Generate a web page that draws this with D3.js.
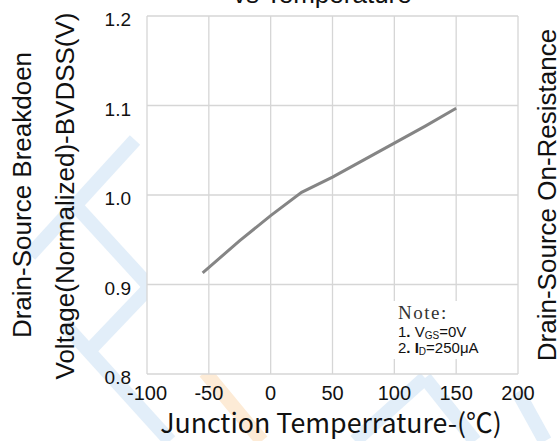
<!DOCTYPE html>
<html>
<head>
<meta charset="utf-8">
<script src="https://cdn.jsdelivr.net/npm/d3@7"></script>
<style>
  html, body { margin: 0; padding: 0; background: #fff; }
  svg { display: block; }
</style>
</head>
<body>
<script>
// data
var temps = [-55, -25, 0, 25, 50, 75, 100, 125, 150];
var bvdss = [0.913, 0.949, 0.977, 1.003, 1.020, 1.039, 1.058, 1.077, 1.097];
var xTicks = [-100, -50, 0, 50, 100, 150, 200];
var yTicks = [0.8, 0.9, 1.0, 1.1, 1.2];

function main() {
  var width = 559, height = 441;
  var margin = { top: 16, left: 147, right: 41, bottom: 67 };

  var svg = d3.select("body").append("svg")
    .attr("width", width)
    .attr("height", height);

  // faint logo watermark behind the chart
  var wm = svg.append("g").attr("fill", "none");
  var blue = [
    [[135, 140], [30, 255]],
    [[75, 205], [150, 287]],
    [[150, 287], [88, 352]],
    [[65, 325], [170, 441]],
    [[355, 441], [425, 378]],
    [[425, 378], [475, 441]],
    [[518, 392], [545, 441]]
  ];
  blue.forEach(function (s) {
    wm.append("line")
      .attr("x1", s[0][0]).attr("y1", s[0][1])
      .attr("x2", s[1][0]).attr("y2", s[1][1])
      .attr("stroke", "#e2eef9").attr("stroke-width", 14);
  });
  wm.append("line")
    .attr("x1", 205).attr("y1", 372).attr("x2", 262).attr("y2", 441)
    .attr("stroke", "#fdebd6").attr("stroke-width", 14);

  var x = d3.scaleLinear().domain([-100, 200]).range([margin.left, width - margin.right]);
  var y = d3.scaleLinear().domain([0.8, 1.2]).range([height - margin.bottom, margin.top]);

  var plot = svg.append("g");

  // white plot background
  plot.append("rect")
    .attr("x", x(-100)).attr("y", y(1.2))
    .attr("width", x(200) - x(-100)).attr("height", y(0.8) - y(1.2))
    .attr("fill", "#fff");

  // grid
  plot.selectAll(".vg").data(xTicks).enter().append("line")
    .attr("x1", function (d) { return x(d); }).attr("x2", function (d) { return x(d); })
    .attr("y1", y(0.8)).attr("y2", y(1.2))
    .attr("stroke", "#d6d6d6").attr("stroke-width", 1.3);
  plot.selectAll(".hg").data(yTicks).enter().append("line")
    .attr("y1", function (d) { return y(d); }).attr("y2", function (d) { return y(d); })
    .attr("x1", x(-100)).attr("x2", x(200))
    .attr("stroke", "#d6d6d6").attr("stroke-width", 1.3);

  // note box
  var note = svg.append("g");
  note.append("rect")
    .attr("x", 391).attr("y", 301).attr("width", 112).attr("height", 58)
    .attr("fill", "#fff");
  note.append("text")
    .attr("x", 398).attr("y", 319)
    .attr("font-family", "'Liberation Serif', serif")
    .attr("font-size", 19).attr("letter-spacing", 1.5)
    .attr("fill", "#333")
    .text("Note:");
  var n1 = note.append("text")
    .attr("x", 398).attr("y", 337)
    .attr("font-family", "'Liberation Sans', Arial, sans-serif")
    .attr("font-size", 15).attr("fill", "#111");
  n1.append("tspan").text("1");
  n1.append("tspan").attr("font-weight", "bold").text(".");
  n1.append("tspan").text(" V");
  n1.append("tspan").attr("font-size", 10).attr("dy", 2).text("GS");
  n1.append("tspan").attr("dy", -2).text("=0V");
  var n2 = note.append("text")
    .attr("x", 398).attr("y", 353)
    .attr("font-family", "'Liberation Sans', Arial, sans-serif")
    .attr("font-size", 15).attr("fill", "#111");
  n2.append("tspan").text("2");
  n2.append("tspan").attr("font-weight", "bold").text(".");
  n2.append("tspan").text(" ");
  n2.append("tspan").attr("font-weight", "bold").text("I");
  n2.append("tspan").attr("font-size", 10).attr("dy", 2).text("D");
  n2.append("tspan").attr("dy", -2).text("=250\u03bcA");

  // data line
  var line = d3.line()
    .x(function (d, i) { return x(temps[i]); })
    .y(function (d) { return y(d); });
  svg.append("path")
    .datum(bvdss)
    .attr("d", line)
    .attr("fill", "none")
    .attr("stroke", "#858585")
    .attr("stroke-width", 3);

  // tick labels
  svg.selectAll(".xt").data(xTicks).enter().append("text")
    .attr("x", function (d) { return x(d); })
    .attr("y", 400)
    .attr("text-anchor", "middle")
    .attr("font-family", "'Liberation Sans', Arial, sans-serif")
    .attr("font-size", 20).attr("fill", "#111")
    .text(function (d) { return d; });
  svg.selectAll(".yt").data(yTicks).enter().append("text")
    .attr("x", 131)
    .attr("y", function (d) { return y(d) + 10; })
    .attr("text-anchor", "end")
    .attr("font-family", "'Liberation Sans', Arial, sans-serif")
    .attr("font-size", 19).attr("fill", "#111")
    .text(function (d) { return d.toFixed(1); });

  // axis titles
  var xt = svg.append("text")
    .attr("x", 331).attr("y", 433)
    .attr("text-anchor", "middle")
    .attr("font-family", "'Noto Sans CJK SC', 'Noto Sans', sans-serif")
    .attr("font-size", 28).attr("fill", "#111")
    .text("Junction Temperrature-(\u2103)");
  var w = xt.node().getComputedTextLength();
  xt.attr("font-size", 28 * 342 / w);

  svg.append("text")
    .attr("transform", "translate(31,195) rotate(-90)")
    .attr("text-anchor", "middle")
    .attr("font-family", "'Liberation Sans', Arial, sans-serif")
    .attr("font-size", 26).attr("fill", "#111")
    .text("Drain-Source Breakdoen");
  svg.append("text")
    .attr("transform", "translate(74,196) rotate(-90)")
    .attr("text-anchor", "middle")
    .attr("font-family", "'Liberation Sans', Arial, sans-serif")
    .attr("font-size", 26).attr("fill", "#111")
    .text("Voltage(Normalized)-BVDSS(V)");
  svg.append("text")
    .attr("transform", "translate(556,195) rotate(-90)")
    .attr("text-anchor", "middle")
    .attr("font-family", "'Liberation Sans', Arial, sans-serif")
    .attr("font-size", 26).attr("fill", "#111")
    .text("Drain-Source On-Resistance");

  // title cut off at the top edge
  svg.append("text")
    .attr("x", 233).attr("y", 3)
    .attr("font-family", "'Liberation Sans', Arial, sans-serif")
    .attr("font-size", 26).attr("fill", "#111")
    .text("vs Temperature");
}
document.addEventListener("DOMContentLoaded", main);
</script>
</body>
</html>
